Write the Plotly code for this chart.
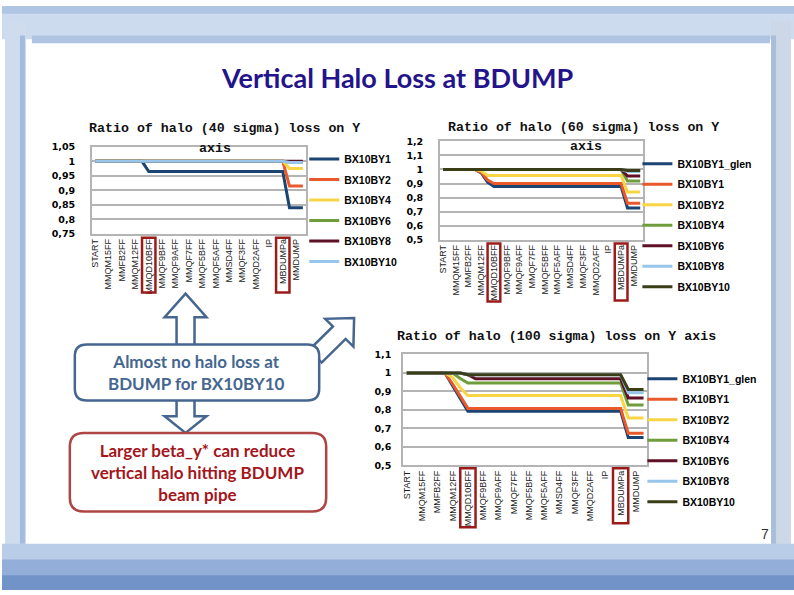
import plotly.graph_objects as go

W, H = 794, 595


def px(x):
    return x / W


def py(y):
    return 1 - y / H


# ---- data ---------------------------------------------------------------
# 32 lattice elements along the line, Excel labels every second one
stations = ["START", "MMQM15FF", "MMFB2FF", "MMQM12FF", "MMQD10BFF", "MMQF9BFF",
            "MMQF9AFF", "MMQF7FF", "MMQF5BFF", "MMQF5AFF", "MMSD4FF", "MMQF3FF",
            "MMQD2AFF", "IP", "MBDUMPa", "MMDUMP"]
element = list(range(32))
label_elem = element[::2]

# 40 sigma halo
names_40 = ["BX10BY1", "BX10BY2", "BX10BY4", "BX10BY6", "BX10BY8", "BX10BY10"]
r40_by1 = [1] * 8 + [0.965] * 21 + [0.84] * 3
r40_by2 = [1] * 29 + [0.915] * 3
r40_by4 = [1] * 29 + [0.975] * 3
r40_by6 = [1] * 29 + [0.997] * 3
r40_by8 = [1] * 32
r40_by10 = [1] * 29 + [0.996] * 3

# 60 sigma halo
names_60 = ["BX10BY1_glen", "BX10BY1", "BX10BY2", "BX10BY4", "BX10BY6", "BX10BY8", "BX10BY10"]
r60_glen = [1] * 6 + [0.975, 0.91] + [0.878] * 21 + [0.726] * 3
r60_by1 = [1] * 6 + [0.98, 0.925] + [0.9] * 21 + [0.759] * 3
r60_by2 = [1] * 6 + [0.99] + [0.958] * 22 + [0.84] * 3
r60_by4 = [1] * 29 + [0.918] * 3
r60_by6 = [1] * 29 + [0.953] * 3
r60_by8 = [1] * 29 + [0.985] * 3
r60_by10 = [1] * 29 + [0.993] * 3

# 100 sigma halo
names_100 = names_60
r100_glen = [1] * 6 + [0.93, 0.86] + [0.793] * 21 + [0.65] * 3
r100_by1 = [1] * 6 + [0.94, 0.87] + [0.808] * 21 + [0.673] * 3
r100_by2 = [1] * 6 + [0.975, 0.92] + [0.878] * 21 + [0.756] * 3
r100_by4 = [1] * 7 + [0.97] + [0.945] * 21 + [0.827] * 3
r100_by6 = [1] * 8 + [0.99] + [0.968] * 20 + [0.865] * 3
r100_by8 = [1] * 8 + [0.99] * 21 + [0.893] * 3
r100_by10 = [1] * 8 + [0.99] * 21 + [0.91] * 3

yticks_40 = [0.75, 0.8, 0.85, 0.9, 0.95, 1, 1.05]
ylabels_40 = ["0,75", "0,8", "0,85", "0,9", "0,95", "1", "1,05"]
yticks_60 = [0.5, 0.6, 0.7, 0.8, 0.9, 1, 1.1, 1.2]
ylabels_60 = ["0,5", "0,6", "0,7", "0,8", "0,9", "1", "1,1", "1,2"]
yticks_100 = [0.5, 0.6, 0.7, 0.8, 0.9, 1, 1.1]
ylabels_100 = ["0,5", "0,6", "0,7", "0,8", "0,9", "1", "1,1"]

colors = ["#1B4472", "#E9592C", "#F8D545", "#6F9D3B", "#5E1026", "#98C6EA", "#3A3E17"]

NARROW = "Liberation Sans Narrow, Arial Narrow, Liberation Sans, sans-serif"
MONO = "Liberation Mono, Courier New, monospace"
GRID = "#B4B4B4"

fig = go.Figure()

charts = [
    (1, names_40, [r40_by1, r40_by2, r40_by4, r40_by6, r40_by8, r40_by10]),
    (2, names_60, [r60_glen, r60_by1, r60_by2, r60_by4, r60_by6, r60_by8, r60_by10]),
    (3, names_100, [r100_glen, r100_by1, r100_by2, r100_by4, r100_by6, r100_by8, r100_by10]),
]
for n, names, series in charts:
    sfx = "" if n == 1 else str(n)
    for i, (name, vals) in enumerate(zip(names, series)):
        fig.add_trace(go.Scatter(
            x=element, y=vals, mode="lines", name=name,
            line=dict(color=colors[i], width=3),
            xaxis="x" + sfx, yaxis="y" + sfx,
            legend="legend" + sfx, legendgroup=f"{n}-{name}",
        ))

# plot areas in slide pixels: (left, right, top, bottom)
areas = {1: (90, 305, 143.5, 232), 2: (439, 643, 138, 238), 3: (402, 647, 355, 468)}
yspec = {1: (yticks_40, ylabels_40, 13), 2: (yticks_60, ylabels_60, 13), 3: (yticks_100, ylabels_100, 8)}

for n, (l, r, t, b) in areas.items():
    sfx = "" if n == 1 else str(n)
    tv, tt, standoff = yspec[n]
    fig.update_layout({
        "xaxis" + sfx: dict(
            domain=[px(l), px(r)], anchor="y" + sfx, range=[-0.5, 31.5],
            tickvals=label_elem, ticktext=stations, tickangle=-90,
            tickfont=dict(family=NARROW, size=9, color="#1a1a1a"),
            showgrid=False, zeroline=False, showline=True, linecolor=GRID,
            linewidth=1.5, mirror=True, ticks="", fixedrange=True,
        ),
        "yaxis" + sfx: dict(
            domain=[py(b), py(t)], anchor="x" + sfx, range=[tv[0], tv[-1]],
            tickvals=tv, ticktext=tt,
            tickfont=dict(family="DejaVu Sans", size=9.5, color="#000", weight="bold"),
            showgrid=True, gridcolor=GRID, gridwidth=1.5, zeroline=False,
            showline=True, linecolor=GRID, linewidth=1.5, mirror=True,
            ticks="", ticklabelstandoff=standoff, fixedrange=True,
        ),
    })

legend_style = dict(font=dict(family=NARROW, size=10.5, color="#000", weight="bold"),
                    bgcolor="rgba(0,0,0,0)", xanchor="left", yanchor="top",
                    tracegroupgap=1.5)
fig.update_layout(
    legend=dict(x=px(303), y=py(141), **legend_style),
    legend2=dict(x=px(637), y=py(146), **legend_style),
    legend3=dict(x=px(642), y=py(365), **legend_style),
)

# ---- slide decoration ---------------------------------------------------
shapes = []


def rect(x0, y0, x1, y1, fill, line=None, lw=0, layer="below", opacity=1):
    shapes.append(dict(type="rect", xref="paper", yref="paper",
                       x0=px(x0), x1=px(x1), y0=py(y0), y1=py(y1),
                       fillcolor=fill, line=dict(color=line or fill, width=lw),
                       layer=layer, opacity=opacity))


def poly(points, line, lw=2.5, fill="white"):
    d = "M " + " L ".join(f"{px(x):.5f},{py(y):.5f}" for x, y in points) + " Z"
    shapes.append(dict(type="path", xref="paper", yref="paper", path=d,
                       fillcolor=fill, line=dict(color=line, width=lw), layer="above"))


def rounded_box(x0, y0, x1, y1, r, line, lw=2.5):
    def p(x, y):
        return f"{px(x):.5f},{py(y):.5f}"
    d = (f"M {p(x0 + r, y0)} L {p(x1 - r, y0)} Q {p(x1, y0)} {p(x1, y0 + r)} "
         f"L {p(x1, y1 - r)} Q {p(x1, y1)} {p(x1 - r, y1)} "
         f"L {p(x0 + r, y1)} Q {p(x0, y1)} {p(x0, y1 - r)} "
         f"L {p(x0, y0 + r)} Q {p(x0, y0)} {p(x0 + r, y0)} Z")
    shapes.append(dict(type="path", xref="paper", yref="paper", path=d,
                       fillcolor="white", line=dict(color=line, width=lw), layer="above"))


# brush-like frame
rect(0, 0, 794, 34, "#CCDBEE")
rect(0, 0, 794, 8, "#AFC5E3")
rect(30, 30, 770, 38, "#AFC4E2")
rect(3, 15, 24, 556, "#CEDCEE")
rect(18, 30, 23, 548, "#A3BBDD")
rect(771, 15, 791, 556, "#CCD7E7")
rect(771, 30, 776, 548, "#AABDD9")
rect(0, 548, 794, 595, "#BACDE8")
rect(0, 564, 794, 595, "#93AED8")
rect(0, 580, 794, 595, "#7193C7")

# red highlight boxes around two station labels
hl_boxes = [("x", 236, 292, 236, 292), ("x2", 242, 301, 242, 300), ("x3", 471, 531, 471, 527)]
for xref, t1, b1, t2, b2 in hl_boxes:
    for j, (t, b) in zip((8, 28), ((t1, b1), (t2, b2))):
        shapes.append(dict(type="rect", xref=xref, yref="paper", x0=j - 1, x1=j + 1,
                           y0=py(b), y1=py(t), line=dict(color="#9B1B1B", width=2.5),
                           layer="above"))

BLUE = "#44668F"
# arrows (drawn before the callout boxes so the boxes cover their tails)
poly([(184, 293), (205, 317), (193, 317), (193, 346), (175, 346), (175, 317), (163, 317)], BLUE)
poly([(175, 401), (193, 401), (193, 418), (205, 418), (184, 435), (163, 418), (175, 418)], BLUE)
u = (0.707, -0.707)
nv = (0.707, 0.707)
tip = (353, 318)
base = (tip[0] - 21 * u[0], tip[1] - 21 * u[1])
tail = (base[0] - 34 * u[0], base[1] - 34 * u[1])
poly([tip,
      (base[0] + 20 * nv[0], base[1] + 20 * nv[1]),
      (base[0] + 9 * nv[0], base[1] + 9 * nv[1]),
      (tail[0] + 9 * nv[0], tail[1] + 9 * nv[1]),
      (tail[0] - 9 * nv[0], tail[1] - 9 * nv[1]),
      (base[0] - 9 * nv[0], base[1] - 9 * nv[1]),
      (base[0] - 20 * nv[0], base[1] - 20 * nv[1])], BLUE)

rounded_box(73, 345, 318, 402, 12, BLUE)
rounded_box(68, 435, 325, 515, 14, "#AE4646")

fig.update_layout(shapes=shapes)

# ---- text ---------------------------------------------------------------
ann = []


def text(x, y, s, size, color="#111", family=NARROW, bold=False, xanchor="center"):
    ann.append(dict(x=px(x), y=py(y), xref="paper", yref="paper", text=s,
                    showarrow=False, xanchor=xanchor, yanchor="middle",
                    font=dict(family=family, size=size, color=color,
                              weight="bold" if bold else "normal")))


text(396, 73, "Vertical Halo Loss at BDUMP", 27, "#24148C", "Lato, Carlito, sans-serif", True)
text(223, 125, "Ratio of halo (40 sigma) loss on Y", 13.3, family=MONO, bold=True)
text(214, 145, "axis", 13.3, family=MONO, bold=True)
text(583, 124, "Ratio of halo (60 sigma) loss on Y", 13.3, family=MONO, bold=True)
text(585, 143, "axis", 13.3, family=MONO, bold=True)
text(556, 337, "Ratio of halo (100 sigma) loss on Y axis", 13.3, family=MONO, bold=True)
text(195, 373, "Almost no halo loss at<br>BDUMP for BX10BY10", 17, BLUE, "Lato, Carlito, sans-serif", True)
text(196, 475, "Larger beta_y* can reduce<br>vertical halo hitting BDUMP<br>beam pipe", 17,
     "#A3161C", "Lato, Carlito, sans-serif", True)
text(765, 538, "7", 14, "#333", "Liberation Sans")

fig.update_layout(
    annotations=ann,
    width=W, height=H, margin=dict(l=0, r=0, t=0, b=0),
    paper_bgcolor="white", plot_bgcolor="white",
    separators=", ",
)

# page body margin would shift the slide by 8px
fig.write_html("out.html", config={"displayModeBar": False},
               post_script="document.body.style.margin = '0px';")
